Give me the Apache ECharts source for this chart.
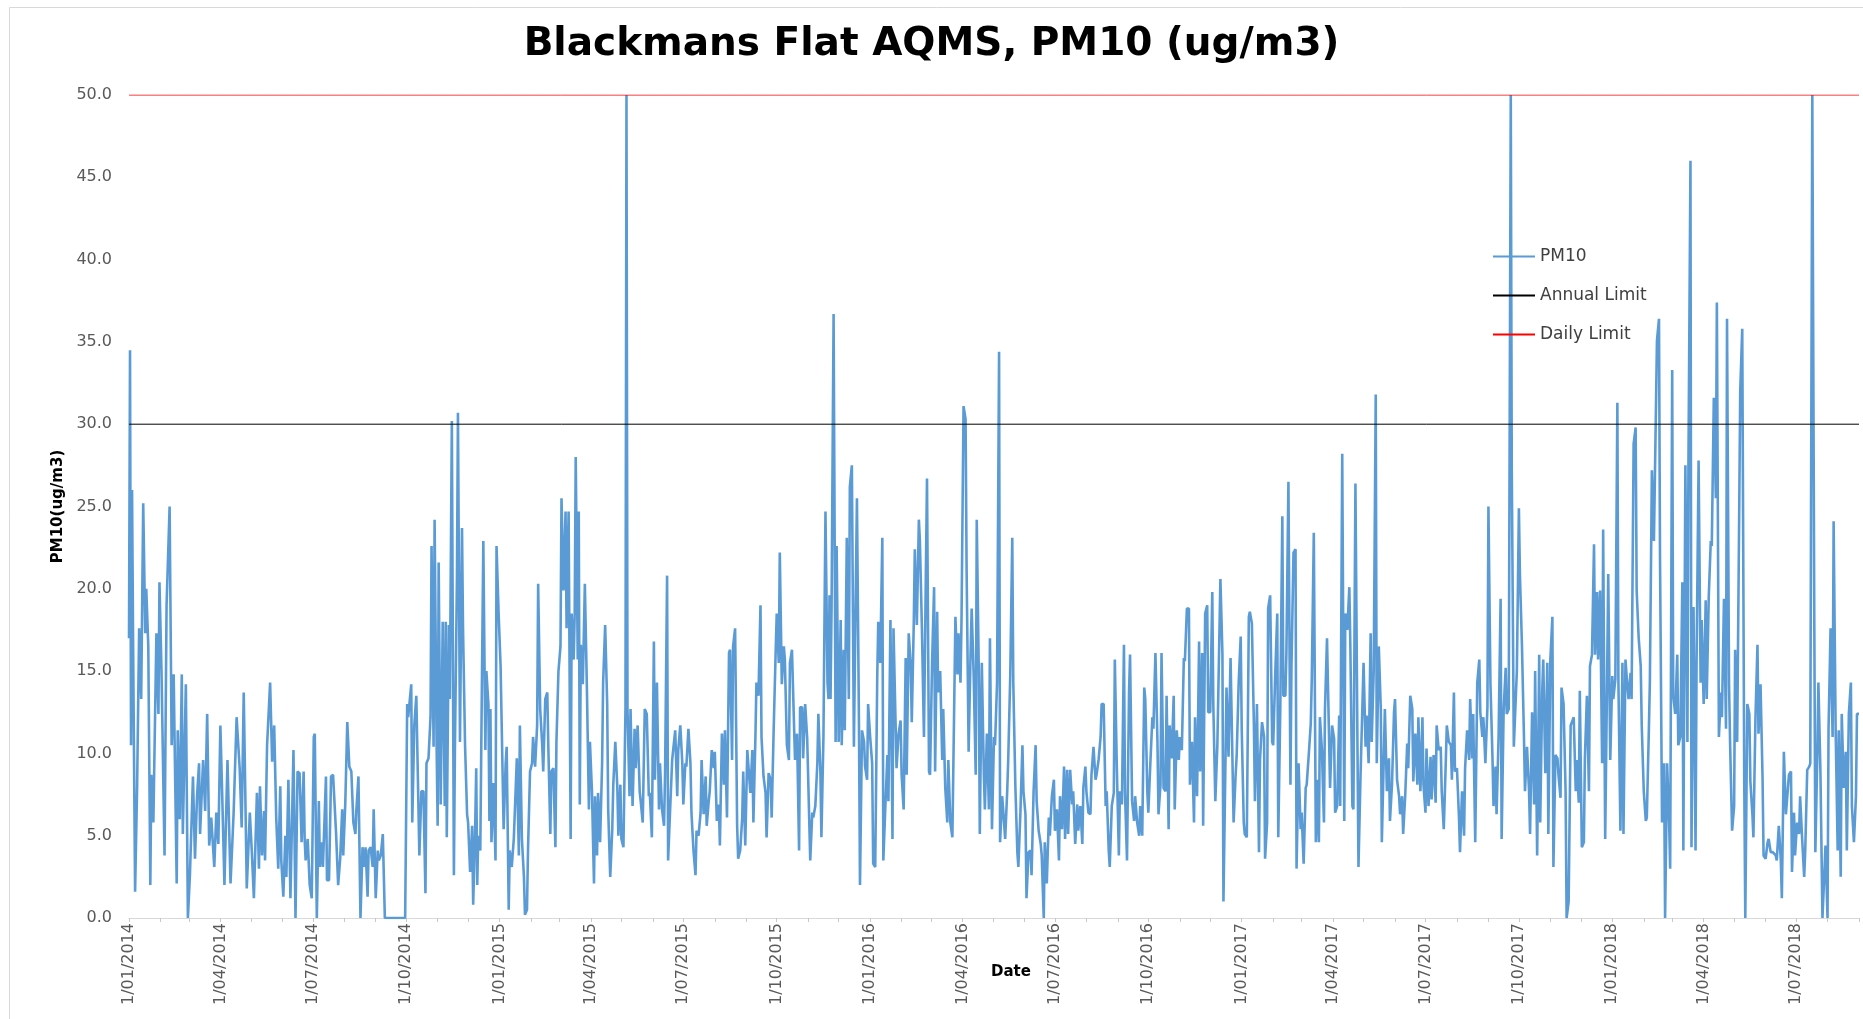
<!DOCTYPE html>
<html><head><meta charset="utf-8">
<script src="https://cdn.jsdelivr.net/npm/echarts@6/dist/echarts.min.js"></script>
<style>html,body{margin:0;padding:0;background:#fff}#chart{width:1863px;height:1019px}</style>
</head><body><div id="chart"></div>
<script>
const chartTitle = 'Blackmans Flat AQMS, PM10 (ug/m3)';
const seriesNames = ['PM10', 'Annual Limit', 'Daily Limit'];
const xAxisTitle = 'Date';
const yAxisTitle = 'PM10(ug/m3)';
const startDate = '2014-01-01';
const endDate = '2018-09-01';
const quarterLabels = ['2014-01-01','2014-04-01','2014-07-01','2014-10-01','2015-01-01','2015-04-01','2015-07-01','2015-10-01','2016-01-01','2016-04-01','2016-07-01','2016-10-01','2017-01-01','2017-04-01','2017-07-01','2017-10-01','2018-01-01','2018-04-01','2018-07-01'];
const annualLimit = 30;
const dailyLimit = 50;
const yMin = 0, yMax = 50, yStep = 5;
// [days since 1/01/2014, PM10 ug/m3]
const pm10Readings = [
[0,17],[1,34.5],[2,10.5],[3,26],[4,17],[6,1.6],[8,8],[10,17.6],[12,13.3],[14,25.2],[16,17.3],[17,20],[19,16.5],[21,2],[22,8.7],[24,5.8],[25,9.7],[27,17.3],[29,12.4],[30,20.4],[32,15],[35,3.8],[37,19],[40,25],[42,10.5],[44,14.8],[45,10.4],[47,2.1],[48,11.4],[50,6],[52,14.8],[53,5.1],[56,14.2],[58,0],[60,2.6],[63,8.6],[65,3.6],[67,7.4],[69,9.4],[70,5.1],[73,9.6],[75,6.5],[77,12.4],[79,4.4],[81,6.1],[84,3.1],[86,6.4],[88,4.5],[90,11.7],[92,7],[94,2],[97,9.6],[100,2.1],[103,6.3],[106,12.2],[109,9.1],[111,5.5],[113,13.7],[116,1.8],[119,6.4],[121,4],[123,1.2],[126,7.6],[128,3],[129,8],[131,3.8],[133,6.5],[134,3.5],[136,10.5],[139,14.3],[141,9.5],[143,11.7],[145,6.1],[147,3],[149,8],[150,3.5],[152,1.3],[154,5],[155,2.5],[157,8.4],[159,1.2],[162,10.2],[164,0],
[166,8.9],[168,8.8],[170,4.6],[172,8.9],[173,4.8],[174,3.5],[176,4.8],[178,2],[180,1.2],[182,11],[183,11.2],[185,0],[187,7.1],[188,3.1],[190,4.6],[191,3.1],[194,8.6],[195,2.3],[197,2.3],[199,8.6],[201,8.7],[202,8.6],[204,5.1],[206,2],[208,3.6],[210,6.6],[211,3.8],[213,6.9],[215,11.9],[217,9.2],[219,8.9],[221,5.8],[223,5.1],[224,6.6],[226,8.6],[228,0],[230,4.3],[232,3.1],[233,4.3],[235,1.3],[236,4.1],[238,4.3],[240,3.1],[241,6.6],[243,1.2],[245,4.1],[246,3.5],[248,3.8],[250,5.1],[252,0],[272,0],[274,13],[275,12.2],[278,14.2],[279,5.8],[281,11.7],[283,13.5],[286,3.8],[288,7.7],[290,7.7],[292,1.5],[293,9.4],[295,9.7],[297,12.2],[298,22.6],[300,10.4],[301,24.2],[303,10.4],[304,5.6],[305,21.6],[307,6.9],[309,18],[311,6.8],[312,18],[313,4.9],[315,17.8],[316,13.3],[318,30.2],[320,2.6],[321,10.2],[323,20.6],[324,30.7],[326,10.7],[328,23.7],[329,17.6],[331,10.5],[333,6.3],[334,5.8],[336,2.8],[338,5.6],[339,0.8],
[341,5.6],[342,9.1],[343,2],[344,5],[346,4.1],[347,10.5],[349,22.9],[351,10.2],[352,15],[354,13],[355,5.9],[356,12.7],[357,4.6],[359,8.2],[361,3.5],[362,22.6],[364,18.6],[366,15.3],[367,12],[369,5.4],[371,9.4],[372,10.4],[374,0.5],[375,4.1],[377,3.1],[379,4.8],[380,6.4],[382,9.7],[384,3.8],[385,11.7],[387,4.8],[389,2.5],[390,0.2],[392,0.5],[393,4.1],[395,8.9],[397,9.4],[398,11],[400,9.2],[402,11.7],[403,20.3],[405,12.7],[407,10.5],[408,8.9],[410,13.3],[412,13.7],[413,10.5],[415,5.1],[416,8.9],[418,9.1],[420,4.3],[421,10.7],[423,15],[425,16.5],[426,25.5],[428,19.9],[430,24.7],[431,17.6],[433,24.7],[435,4.8],[436,18.5],[438,15.7],[439,18.5],[440,28],[442,15.7],[443,24.7],[444,6.9],[445,16.6],[447,14.2],[449,20.3],[451,14],[453,6.6],[454,10.7],[456,7.7],[458,2.1],[459,7.4],[461,3.8],[462,7.6],[464,4.6],[466,9.4],[467,14.3],[469,17.8],[471,13],[472,6.6],[474,2.5],[476,5.4],[477,8.1],[479,10.7],[481,7.9],[482,5],[484,8.1],[485,4.8],[487,4.3],[489,12.7],[490,50],[491,12.7],[493,7.4],[494,12.7],[496,6.8],[498,11.5],[499,9.1],[501,11.7],[503,7.7],[504,7.1],[506,5.8],
[508,12.7],[510,12.4],[512,7.4],[513,7.6],[515,4.9],[517,16.8],[518,8.4],[520,14.3],[522,6.6],[523,9.4],[525,6.6],[527,5.6],[528,8.7],[530,20.8],[531,3.5],[533,6.6],[535,9.6],[536,9.7],[538,11.4],[540,7.4],[541,10.2],[543,11.7],[545,9.4],[546,6.9],[548,9.4],[549,9.2],[551,11.5],[553,9.4],[554,6.4],[556,4.1],[558,2.6],[559,5.3],[561,5],[563,6.4],[564,9.6],[566,6.3],[568,8.6],[569,5.6],[571,7.1],[572,7.7],[574,10.2],[576,9.1],[577,10.1],[579,5.9],[581,6.9],[582,4.4],[584,11.2],[586,8.1],[587,11.4],[589,6.1],[591,16.1],[592,16.3],[594,9.6],[595,16.5],[597,17.6],[599,5.6],[600,3.6],[602,4.1],[604,6.1],[605,8.9],[607,4.4],[609,10.2],[610,10.2],[612,7.6],[614,10.2],[615,5.8],[617,11],[618,14.3],[620,13.5],[622,19],[623,11],[625,8.6],[627,7.6],[628,4.9],[630,8.8],[632,8.4],[633,6.1],[635,11.5],[637,16.3],[638,18.5],[640,15.5],[641,22.2],[643,14.2],[645,16.5],[646,15.7],[648,10.5],[650,9.6],[651,15.5],[653,16.3],[655,11.8],[656,9.6],[658,11.2],[660,4.1],[661,12.8],[663,12.8],[664,9.7],[666,13],[668,10.9],[669,11],[671,3.5],[673,6.4],[674,6.1],[676,6.8],[678,9.4],[679,12.4],[681,8.9],[682,4.9],[684,11],
[686,24.7],[688,14.3],[689,13.3],[690,19.6],[691,13.3],[692,18.9],[694,36.7],[696,10.7],[697,22.6],[699,10.7],[701,18.1],[702,10.5],[704,16.3],[705,11.4],[707,23.1],[709,13.3],[710,26.2],[712,27.5],[714,10.4],[715,15.7],[717,25.5],[719,11.7],[720,2],[722,11.4],[724,10.7],[725,9.2],[727,8.4],[728,13],[730,11],[732,9.4],[733,3.3],[735,3.1],[737,14.7],[738,18],[740,15.5],[742,23.1],[743,3.5],[745,6.8],[747,9.9],[748,7.1],[750,18.1],[752,4.8],[753,17.6],[755,12],[756,9.1],[758,11.2],[760,12],[761,8.7],[763,6.6],[765,15.8],[766,8.7],[768,17.3],[770,15.3],[771,11.9],[773,18],[774,22.4],[776,17.8],[778,24.2],[779,22.9],[781,17.6],[783,11],[784,16.3],[786,26.7],[788,8.9],[789,8.7],[791,15.5],[793,20.1],[794,8.9],[796,18.6],[797,13.7],[799,15],[801,9.6],[802,12.7],[804,7.9],[806,5.8],[807,9.6],[809,5.8],[811,4.9],[812,9.4],[814,18.3],[816,14.8],[817,17.3],[819,14.3],[820,18.1],[822,31.1],[824,30.3],[825,21.3],[827,10.1],[829,16.3],[830,18.8],[832,14.7],[834,8.7],[835,24.2],[837,15],[838,5.1],[840,15.5],[842,8.7],[843,6.6],[845,11.2],[847,6.6],[848,17],[850,5.4],[852,11],[853,10.5],[855,14.3],[857,34.4],[858,4.6],
[860,7.4],[861,6.6],[863,4.8],[865,7.7],[866,9.6],[868,14.7],[870,23.1],[871,14.3],[873,8.1],[875,4],[876,3.1],[878,6.4],[880,10.5],[881,7.7],[883,6.3],[884,1.2],[886,4],[888,4.1],[889,2.6],[891,7.7],[893,10.5],[894,7.1],[896,5.3],[898,4.5],[899,3.8],[901,0],[902,4.6],[904,2.1],[906,6.1],[907,5],[909,7.4],[911,8.4],[912,5.3],[914,6.6],[916,3.5],[917,7.4],[919,5.4],[921,9.2],[922,4.8],[924,9],[925,5.1],[927,9],[929,6.9],[930,7.7],[932,4.5],[934,6.9],[935,5.3],[937,6.8],[939,4.5],[940,7.9],[942,9.2],[943,7.7],[945,6.4],[947,6.3],[948,8.7],[950,10.4],[952,8.4],[953,8.7],[955,9.6],[957,11],[958,13],[960,13],[962,6.8],[963,7.7],[965,4.1],[966,3.1],[968,6.8],[970,7.6],[971,15.7],[973,9.1],[975,3.8],[976,7.7],[978,6.9],[980,16.6],[981,7.7],[983,3.5],[985,13.7],[986,16],[988,7.1],[990,5.9],[991,7.4],[993,5.8],[995,5],[996,6.8],[998,5],[1000,14],[1001,13.3],[1003,7.7],[1004,6.4],[1006,9.4],[1008,12.2],[1009,11.5],[1011,16.1],[1013,10.7],[1014,6.3],[1016,8.1],[1017,16.1],[1019,7.9],[1021,7.7],[1022,13.5],[1024,5.4],[1025,11.7],[1027,9.7],[1029,13.5],[1030,6.6],
[1032,11.4],[1034,9.6],[1035,11],[1037,10.2],[1039,15.8],[1040,15.6],[1042,18.8],[1044,18.8],[1045,8.1],[1047,10.7],[1049,5.8],[1050,12.2],[1052,7.4],[1054,16.8],[1055,8.9],[1057,16.1],[1058,5.6],[1060,18.5],[1062,19],[1063,12.5],[1065,12.5],[1067,19.8],[1068,13],[1070,7.1],[1072,10.5],[1073,10.4],[1075,20.6],[1077,16],[1078,1],[1080,9.6],[1081,14],[1083,9.8],[1085,15.8],[1086,15.8],[1088,5.8],[1090,8.7],[1091,9.8],[1093,14.3],[1095,17.1],[1096,11.5],[1098,5.8],[1099,5.1],[1101,4.9],[1103,18.3],[1104,18.6],[1106,17.9],[1108,11.7],[1109,7.1],[1111,13],[1113,4],[1114,9.6],[1116,11.9],[1118,11],[1119,3.6],[1121,5.8],[1122,18.8],[1124,19.6],[1126,10.7],[1127,10.5],[1129,14.8],[1131,18.5],[1132,4.9],[1134,12.8],[1136,24.4],[1137,13.5],[1139,13.5],[1140,16.1],[1142,26.5],[1144,8.1],[1145,15.3],[1147,22.2],[1149,22.4],[1150,3],[1152,9.4],[1154,5.4],[1155,6.4],[1157,3.3],[1159,7.9],[1160,8.1],[1162,9.9],[1164,11.8],[1165,14.5],[1167,23.4],[1169,4.6],[1170,8.4],[1172,4.6],[1173,12.2],[1175,10.2],[1177,5.8],[1178,12.7],[1180,17],[1182,11],[1183,7.9],[1185,11.7],[1187,10.9],[1188,6.4],[1190,6.8],[1192,12.3],[1193,6.8],[1195,28.2],[1197,5.9],[1198,18.5],[1200,17.5],[1202,20.1],[1203,16.5],
[1205,6.8],[1206,6.6],[1208,26.4],[1210,10.4],[1211,3.1],[1213,8.6],[1214,8.6],[1216,15.5],[1218,10.4],[1219,12.3],[1221,9.4],[1223,17.3],[1224,10.7],[1226,15],[1228,31.8],[1229,9.4],[1231,16.5],[1233,12.7],[1234,4.6],[1236,10],[1237,12.7],[1239,7.7],[1241,9.7],[1242,5.9],[1244,8.1],[1246,12.5],[1247,13.3],[1249,8.4],[1251,7.4],[1252,6.3],[1254,7.4],[1255,5.1],[1257,7.4],[1259,10.6],[1260,9.1],[1262,13.5],[1264,12.7],[1265,8.3],[1267,11.2],[1269,8.1],[1270,12.2],[1272,7.7],[1274,12.2],[1275,8.1],[1277,6.4],[1278,10.3],[1280,6.8],[1282,9.8],[1283,7.2],[1285,9.9],[1287,7],[1288,11.7],[1290,10.2],[1292,10.4],[1293,7.7],[1295,5.4],[1297,9.5],[1298,11.7],[1300,10.7],[1302,10.5],[1303,8.4],[1305,13.7],[1306,8.9],[1308,9.1],[1310,6.1],[1311,4],[1313,7.7],[1315,5],[1316,9.1],[1318,11.4],[1320,9.6],[1321,13.3],[1323,9.7],[1324,12.4],[1326,4.6],[1328,14.3],[1330,15.7],[1331,12.5],[1333,11],[1334,12.2],[1336,9.4],[1338,12.8],[1339,25],[1341,14.2],[1343,9.7],[1344,6.8],[1346,9.2],[1347,6.3],[1349,11],[1351,19.4],[1352,4.8],[1354,12.7],[1356,15.2],[1357,12.4],[1359,12.7],[1361,50],[1362,27.2],[1364,10.4],[1365,10.5],[1367,15],[1369,24.9],[1370,20.9],[1372,16.6],[1374,11],[1375,7.7],
[1377,10.4],[1379,7.7],[1380,5.1],[1382,12.5],[1384,6.9],[1385,15],[1387,3.8],[1389,16],[1390,5.8],[1392,13.8],[1393,15.7],[1395,8.8],[1397,15.5],[1398,5.1],[1400,15.7],[1402,18.3],[1403,3.1],[1405,9.9],[1407,9.7],[1408,8.7],[1410,7.3],[1411,14],[1413,13],[1415,7.7],[1416,0],[1418,1],[1420,11.7],[1421,11.7],[1423,12.2],[1425,7.7],[1426,9.6],[1428,7],[1429,13.8],[1431,4.3],[1433,4.6],[1434,9.7],[1436,13.5],[1438,7.7],[1439,15.3],[1441,16],[1443,22.7],[1444,16],[1446,19.8],[1447,15.7],[1449,19.9],[1451,9.4],[1452,23.6],[1454,4.8],[1456,15.2],[1457,20.9],[1459,9.6],[1461,14.7],[1462,13.3],[1464,14.5],[1466,31.3],[1467,14.5],[1469,5.3],[1471,15.5],[1472,5.1],[1474,15.7],[1475,14.8],[1477,13.3],[1479,14.9],[1480,13.3],[1482,28.8],[1484,29.8],[1485,19.9],[1487,17],[1489,15.3],[1490,11.7],[1492,7.7],[1494,5.9],[1495,6.1],[1497,11.4],[1498,14.3],[1500,27.2],[1502,22.9],[1503,26.9],[1505,35.1],[1507,36.4],[1508,21.9],[1510,5.8],[1512,9.4],[1513,0],[1515,9.4],[1517,5.8],[1518,3],[1520,33.3],[1521,13.5],[1523,12.4],[1525,16],[1526,10.5],[1528,11],[1530,20.4],[1531,4.1],[1533,27.5],[1535,10.7],[1536,27.5],[1538,46],[1539,4.3],[1541,18.9],[1543,4.1],[1544,15.5],[1546,27.8],[1548,14.3],
[1549,18.1],[1551,13],[1553,19.3],[1554,13.3],[1556,19.5],[1558,22.9],[1559,22.6],[1561,31.6],[1563,25.5],[1564,37.4],[1566,11],[1568,13.7],[1569,12.2],[1571,19.4],[1573,11.5],[1574,36.4],[1576,14.2],[1577,10.7],[1579,5.3],[1581,6.8],[1582,16.3],[1584,10.7],[1586,24.7],[1587,32],[1589,35.8],[1591,8.1],[1592,0],[1594,13],[1596,12.4],[1597,8.3],[1599,6.3],[1600,4.9],[1602,12.1],[1604,16.6],[1605,11.2],[1607,14.2],[1609,8.5],[1610,3.8],[1612,3.6],[1614,4.6],[1615,4.8],[1617,4],[1619,4],[1620,4],[1622,3.8],[1623,3.5],[1625,5.6],[1627,3.5],[1628,1.2],[1630,10.1],[1632,6.3],[1633,7.1],[1635,8.7],[1637,8.9],[1638,2.8],[1640,6.4],[1641,3.8],[1643,5.8],[1645,5.1],[1646,7.4],[1648,4.8],[1650,2.5],[1651,4],[1653,9],[1655,9.2],[1656,9.4],[1658,50],[1660,17.6],[1661,4],[1663,10.1],[1664,14.3],[1666,8.9],[1668,0],[1669,0],[1671,4.4],[1673,0],[1674,11.5],[1676,17.6],[1678,11],[1679,24.1],[1681,11.4],[1683,4.1],[1684,11.4],[1686,2.5],[1687,12.4],[1689,7.9],[1691,10.1],[1692,4.1],[1694,12.4],[1696,14.3],[1697,6.8],[1699,4.6],[1701,7.4],[1702,12.4],[1704,12.4]
];

const DAY = 86400000;
function parseDay(s) { const p = s.split('-').map(Number); return Date.UTC(p[0], p[1] - 1, p[2]); }
const t0 = parseDay(startDate);
const dayOf = (s) => Math.round((parseDay(s) - t0) / DAY);
const lastDay = dayOf(endDate);
const quarterDays = quarterLabels.map(dayOf);
const monthDays = [];
for (let y = 2014; y <= 2018; y++) for (let m = 0; m < 12; m++) {
  const d = Math.round((Date.UTC(y, m, 1) - t0) / DAY);
  if (d <= lastDay) monthDays.push(d);
}
function fmtDay(v) {
  const d = new Date(t0 + Math.round(v) * DAY);
  return d.getUTCDate() + '/' + String(d.getUTCMonth() + 1).padStart(2, '0') + '/' + d.getUTCFullYear();
}

const chart = echarts.init(document.getElementById('chart'), null, { renderer: 'canvas' });
chart.setOption({
  animation: false,
  backgroundColor: '#ffffff',
  title: {
    text: chartTitle, left: 'center', top: 25, padding: 0,
    textStyle: { fontFamily: 'DejaVu Sans', fontWeight: 'bold', fontSize: 39, color: '#000000' }
  },
  legend: {
    orient: 'vertical', left: 1487, top: 243, itemWidth: 42, itemHeight: 14, itemGap: 22,
    data: seriesNames,
    itemStyle: { opacity: 0 },
    textStyle: { fontFamily: 'DejaVu Sans', fontSize: 17, color: '#404040' }
  },
  grid: { left: 129, right: 4, top: 95, bottom: 101, containLabel: false },
  xAxis: {
    type: 'value', min: 0, max: lastDay,
    axisLine: { show: true, lineStyle: { color: '#d9d9d9', width: 1 } },
    axisTick: { show: true, customValues: monthDays, length: 4, lineStyle: { color: '#c8c8c8' } },
    axisLabel: {
      customValues: quarterDays, rotate: 90, margin: 5, formatter: (v) => fmtDay(v),
      fontFamily: 'DejaVu Sans', fontSize: 16, color: '#595959'
    },
    splitLine: { show: false }
  },
  yAxis: {
    type: 'value', min: yMin, max: yMax, interval: yStep,
    name: yAxisTitle, nameLocation: 'middle', nameGap: 62, nameRotate: 90,
    nameTextStyle: { fontFamily: 'DejaVu Sans', fontWeight: 'bold', fontSize: 15, color: '#000000' },
    axisLine: { show: false }, axisTick: { show: false }, splitLine: { show: false },
    axisLabel: { margin: 17, formatter: (v) => v.toFixed(1), fontFamily: 'DejaVu Sans', fontSize: 16, color: '#595959' }
  },
  graphic: [
    { type: 'rect', shape: { x: 9.5, y: 7.5, width: 1900, height: 1100 }, style: { fill: null, stroke: '#d9d9d9', lineWidth: 1 }, silent: true },
    { type: 'text', x: 1011, y: 972, style: { text: xAxisTitle, fontFamily: 'DejaVu Sans', fontWeight: 'bold', fontSize: 15, fill: '#000000', align: 'center', verticalAlign: 'middle' } }
  ],
  series: [
    {
      name: seriesNames[0], type: 'line', symbol: 'none', clip: true,
      data: pm10Readings,
      lineStyle: { color: '#5B9BD5', width: 2.6 }, itemStyle: { color: '#5B9BD5' }
    },
    {
      name: seriesNames[1], type: 'line', symbol: 'none',
      data: [[0, annualLimit], [lastDay, annualLimit]],
      lineStyle: { color: '#000000', width: 1 }, itemStyle: { color: '#000000' }
    },
    {
      name: seriesNames[2], type: 'line', symbol: 'none',
      data: [[0, dailyLimit], [lastDay, dailyLimit]],
      lineStyle: { color: '#FF0000', width: 1 }, itemStyle: { color: '#FF0000' }
    }
  ]
});
</script>
</body></html>
